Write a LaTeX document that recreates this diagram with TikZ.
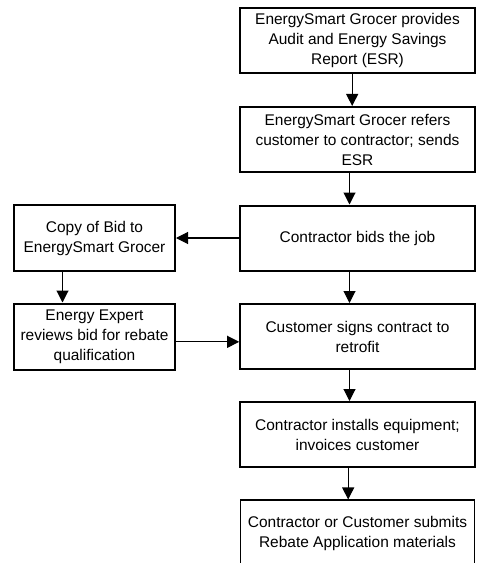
\documentclass[tikz,border=0pt]{standalone}
\usepackage{fontspec}
\setmainfont{Liberation Sans}
\usetikzlibrary{arrows.meta}
\begin{document}
\begin{tikzpicture}[x=0.75pt,y=-0.75pt,
  box/.style={draw, line width=1.5pt, align=center, inner sep=0pt,
    font=\fontsize{11.6}{15}\selectfont},
  wide/.style={box, minimum width=176pt, minimum height=48.75pt},
  narrow/.style={box, minimum width=120.75pt, minimum height=49.5pt},
  arr/.style={line width=0.8pt, -{Triangle[length=9pt,width=9pt]}}]
\useasboundingbox (0,0) rectangle (476,563);
\node[wide] (b1) at (357.5,40.5) {EnergySmart Grocer provides\\Audit and Energy Savings\\Report (ESR)};
\node[wide] (b2) at (357.5,139.5) {EnergySmart Grocer refers\\customer to contractor; sends\\ESR};
\node[wide] (b3) at (357.5,238) {Contractor bids the job};
\node[narrow] (copy) at (94.5,238) {Copy of Bid to\\EnergySmart Grocer};
\node[narrow] (expert) at (94.5,336.5) {Energy Expert\\reviews bid for rebate\\qualification};
\node[wide] (signs) at (357.5,336.5) {Customer signs contract to\\retrofit};
\node[wide] (inst) at (357.5,434.5) {Contractor installs equipment;\\invoices customer};
\node[wide, line width=0.8pt, minimum height=49.5pt] (last) at (357.5,533) {Contractor or Customer submits\\Rebate Application materials};
\draw[arr] ([xshift=-4pt]b1.south) -- ([xshift=-4pt]b2.north);
\draw[arr] ([xshift=-6pt]b2.south) -- ([xshift=-6pt]b3.north);
\draw[arr] (b3.west) -- (copy.east);
\draw[arr] ([xshift=-24pt]copy.south) -- ([xshift=-24pt]expert.north);
\draw[arr] ([yshift=-4pt]expert.east) -- ([yshift=-4pt]signs.west);
\draw[arr] ([xshift=-6pt]b3.south) -- ([xshift=-6pt]signs.north);
\draw[arr] ([xshift=-6pt]signs.south) -- ([xshift=-6pt]inst.north);
\draw[arr] ([xshift=-7pt]inst.south) -- ([xshift=-7pt]last.north);
\end{tikzpicture}
\end{document}
